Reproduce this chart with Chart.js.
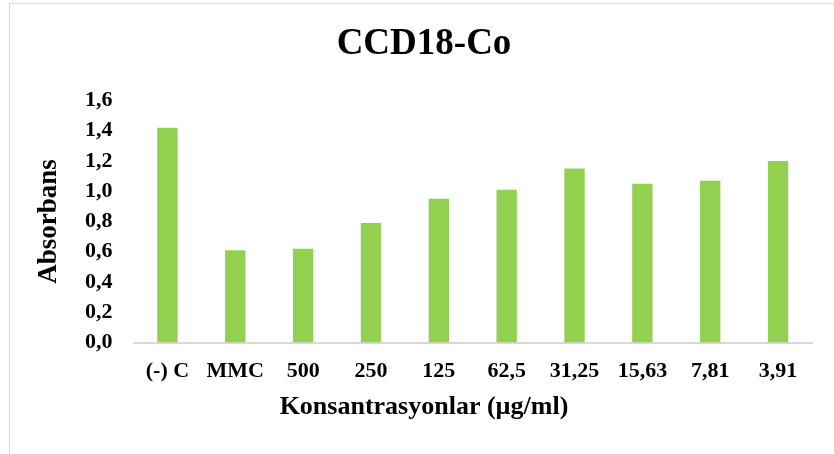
<!DOCTYPE html>
<html>
<head>
<meta charset="utf-8">
<script src="https://cdn.jsdelivr.net/npm/chart.js@4/dist/chart.umd.min.js"></script>
<style>
  body { margin: 0; background: #fff; }
  #wrap { position: relative; width: 834px; height: 454px; }
  #frame { position: absolute; left: 9px; top: 3px; width: 840px; height: 470px; border: 1px solid #d9d9d9; box-sizing: border-box; }
  #chartBox { position: absolute; left: 0; top: 0; width: 834px; height: 454px; }
</style>
</head>
<body>
<div id="wrap">
  <div id="frame"></div>
  <div id="chartBox"><canvas id="absChart"></canvas></div>
</div>
<script>
const chartTitle = 'CCD18-Co';
const xTitle = 'Konsantrasyonlar (µg/ml)';
const yTitle = 'Absorbans';
const categories = ['(-) C', 'MMC', '500', '250', '125', '62,5', '31,25', '15,63', '7,81', '3,91'];
const absorbance = [1.42, 0.61, 0.62, 0.79, 0.95, 1.01, 1.15, 1.05, 1.07, 1.20];
const yMin = 0, yMax = 1.6, yStep = 0.2;

const serif = 'Liberation Serif';

document.addEventListener('DOMContentLoaded', function () {
    const ctx = document.getElementById('absChart').getContext('2d');
    new Chart(ctx, {
        type: 'bar',
        data: {
            labels: categories,
            datasets: [{
                label: yTitle,
                data: absorbance,
                backgroundColor: '#92D050',
                borderWidth: 0,
                barPercentage: 0.3,
                categoryPercentage: 1
            }]
        },
        options: {
            responsive: true,
            maintainAspectRatio: false,
            animation: false,
            layout: { padding: { left: 36, right: 22, top: 0, bottom: 0 } },
            plugins: {
                legend: { display: false },
                tooltip: { enabled: false },
                title: {
                    display: true,
                    text: chartTitle,
                    color: '#000',
                    font: { family: serif, size: 37, weight: 'bold' },
                    padding: { top: 22, bottom: 34 }
                },
                // x axis title sits centred on the whole canvas, like the original
                subtitle: {
                    display: true,
                    position: 'bottom',
                    text: xTitle,
                    color: '#000',
                    font: { family: serif, size: 26, weight: 'bold', lineHeight: 0.5 },
                    padding: { top: 0, bottom: 40 }
                }
            },
            scales: {
                x: {
                    grid: { display: false, drawTicks: false },
                    border: { display: true, color: '#d9d9d9', width: 2 },
                    ticks: {
                        color: '#000',
                        padding: 16,
                        maxRotation: 0,
                        autoSkip: false,
                        font: { family: serif, size: 22, weight: 'bold' }
                    }
                },
                y: {
                    min: yMin,
                    max: yMax,
                    grid: { display: false, drawTicks: false },
                    border: { display: false },
                    title: {
                        display: true,
                        text: yTitle,
                        color: '#000',
                        font: { family: serif, size: 27, weight: 'bold', lineHeight: 1 },
                        padding: { top: 0, bottom: 1 }
                    },
                    ticks: {
                        stepSize: yStep,
                        color: '#000',
                        padding: 21,
                        font: { family: serif, size: 22, weight: 'bold' },
                        callback: function (value) {
                            return value.toFixed(1).replace('.', ',');
                        }
                    }
                }
            }
        }
    });
});
</script>
</body>
</html>
